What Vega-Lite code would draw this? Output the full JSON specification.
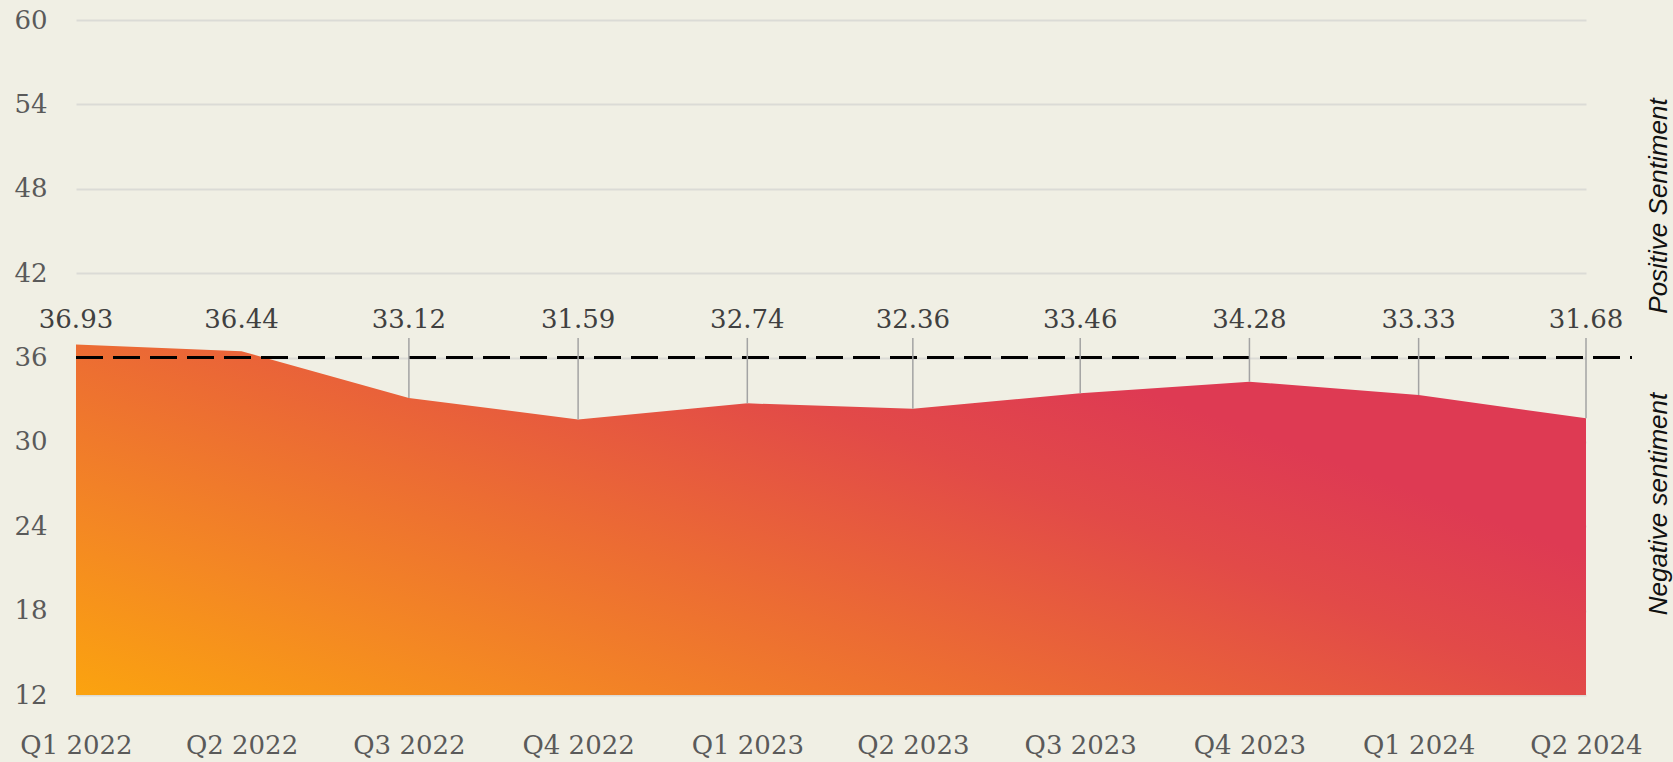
{
  "$schema": "https://vega.github.io/schema/vega-lite/v6.json",
  "width": 1510,
  "height": 675,
  "autosize": "none",
  "padding": {"left": 76, "top": 20, "right": 87, "bottom": 67},
  "background": "#F0EFE4",
  "config": {"view": {"stroke": null}, "font": "DejaVu Serif"},
  "data": {
    "values": [
      {"quarter": "2022-01-01", "value": 36.93},
      {"quarter": "2022-04-01", "value": 36.44},
      {"quarter": "2022-07-01", "value": 33.12},
      {"quarter": "2022-10-01", "value": 31.59},
      {"quarter": "2023-01-01", "value": 32.74},
      {"quarter": "2023-04-01", "value": 32.36},
      {"quarter": "2023-07-01", "value": 33.46},
      {"quarter": "2023-10-01", "value": 34.28},
      {"quarter": "2024-01-01", "value": 33.33},
      {"quarter": "2024-04-01", "value": 31.68}
    ]
  },
  "layer": [
    {
      "mark": {
        "type": "area",
        "line": false,
        "color": {
          "gradient": "linear",
          "x1": 0, "y1": 1, "x2": 1.168, "y2": 0.27,
          "stops": [
            {"offset": 0, "color": "#FBA30F"},
            {"offset": 0.19, "color": "#F48823"},
            {"offset": 0.385, "color": "#EC6C33"},
            {"offset": 0.615, "color": "#E24A48"},
            {"offset": 0.77, "color": "#DE3A53"},
            {"offset": 1, "color": "#DE3A53"}
          ]
        }
      },
      "encoding": {
        "x": {
          "field": "quarter",
          "type": "temporal",
          "scale": {
            "type": "utc",
            "domain": [
              {"year": 2022, "month": 1, "date": 1, "utc": true},
              {"year": 2024, "month": 4, "date": 1, "utc": true}
            ]
          },
          "axis": {
            "title": null,
            "grid": false,
            "domain": false,
            "ticks": false,
            "tickSize": 0,
            "labelPadding": 58,
            "labelBaseline": "alphabetic",
            "labelFlush": false,
            "labelOverlap": false,
            "labelFont": "DejaVu Serif",
            "labelFontSize": 26,
            "labelColor": "#5A5A5A",
            "labelExpr": "'Q' + (floor(utcmonth(datum.value) / 3) + 1) + ' ' + utcyear(datum.value)",
            "values": [
              {"year": 2022, "month": 1, "date": 1, "utc": true},
              {"year": 2022, "month": 4, "date": 1, "utc": true},
              {"year": 2022, "month": 7, "date": 1, "utc": true},
              {"year": 2022, "month": 10, "date": 1, "utc": true},
              {"year": 2023, "month": 1, "date": 1, "utc": true},
              {"year": 2023, "month": 4, "date": 1, "utc": true},
              {"year": 2023, "month": 7, "date": 1, "utc": true},
              {"year": 2023, "month": 10, "date": 1, "utc": true},
              {"year": 2024, "month": 1, "date": 1, "utc": true},
              {"year": 2024, "month": 4, "date": 1, "utc": true}
            ]
          }
        },
        "y": {
          "field": "value",
          "type": "quantitative",
          "scale": {"domain": [12, 60], "zero": false, "nice": false},
          "axis": {
            "title": null,
            "values": [12, 18, 24, 30, 36, 42, 48, 54, 60],
            "grid": true,
            "gridColor": "#DBDBD6",
            "gridWidth": 2,
            "domain": false,
            "ticks": false,
            "tickSize": 0,
            "labelPadding": 29,
            "labelBaseline": "middle",
            "labelFont": "DejaVu Serif",
            "labelFontSize": 26,
            "labelColor": "#5A5A5A"
          }
        },
        "y2": {"datum": 12}
      }
    },
    {
      "mark": {"type": "rule", "color": "#000000", "strokeWidth": 3, "strokeDash": [27, 10]},
      "encoding": {
        "x": {"datum": {"year": 2022, "month": 1, "date": 1, "utc": true}, "type": "temporal"},
        "x2": {"datum": {"year": 2024, "month": 4, "date": 26, "utc": true}},
        "y": {"datum": 36, "type": "quantitative"}
      }
    },
    {
      "transform": [{"filter": "datum.value < 36"}],
      "mark": {"type": "rule", "color": "#A3A3A3", "strokeWidth": 1.5},
      "encoding": {
        "x": {"field": "quarter", "type": "temporal"},
        "y": {"field": "value", "type": "quantitative"},
        "y2": {"datum": 37.39}
      }
    },
    {
      "mark": {"type": "text", "font": "DejaVu Serif", "fontSize": 26, "color": "#404040", "align": "center", "baseline": "middle"},
      "encoding": {
        "x": {"field": "quarter", "type": "temporal"},
        "y": {"datum": 38.67, "type": "quantitative"},
        "text": {"field": "value", "type": "quantitative", "format": ".2f"}
      }
    },
    {
      "data": {"values": [{"label": "Positive Sentiment"}]},
      "mark": {"type": "text", "font": "Liberation Sans", "fontStyle": "italic", "fontSize": 26, "color": "#111111", "angle": 270, "align": "center", "baseline": "alphabetic"},
      "encoding": {
        "x": {"datum": {"year": 2024, "month": 5, "date": 15, "utc": true}, "type": "temporal"},
        "y": {"datum": 46.77, "type": "quantitative"},
        "text": {"field": "label"}
      }
    },
    {
      "data": {"values": [{"label": "Negative sentiment"}]},
      "mark": {"type": "text", "font": "Liberation Sans", "fontStyle": "italic", "fontSize": 26, "color": "#111111", "angle": 270, "align": "center", "baseline": "alphabetic"},
      "encoding": {
        "x": {"datum": {"year": 2024, "month": 5, "date": 15, "utc": true}, "type": "temporal"},
        "y": {"datum": 25.58, "type": "quantitative"},
        "text": {"field": "label"}
      }
    }
  ]
}
